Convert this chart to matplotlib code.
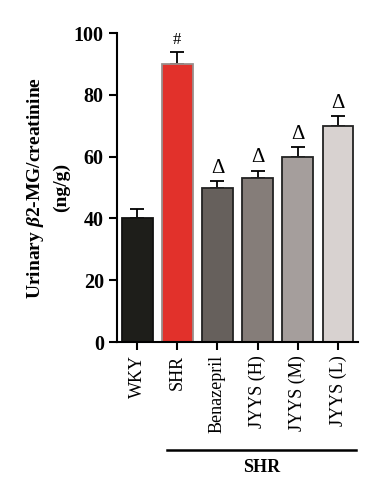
import matplotlib.pyplot as plt
import matplotlib.transforms as mtransforms

groups = ["WKY", "SHR", "Benazepril", "JYYS (H)", "JYYS (M)", "JYYS (L)"]
values = [40, 90, 50, 53, 60, 70]
errors = [3, 4, 2, 2.5, 3, 3]
marks = ["", "#", "Δ", "Δ", "Δ", "Δ"]
colors = ["#1e1e1a", "#e2312b", "#66605c", "#857d79", "#a59e9c", "#d8d2d0"]
edges = ["#111111", "#9a8f8c", "#222222", "#222222", "#222222", "#222222"]
yticks = [0, 20, 40, 60, 80, 100]

plt.rcParams['font.family'] = ['Liberation Serif', 'DejaVu Serif']
plt.rcParams['mathtext.fontset'] = 'custom'
plt.rcParams['mathtext.it'] = 'Liberation Serif:italic:bold'
plt.rcParams['mathtext.rm'] = 'Liberation Serif:bold'

fig = plt.figure(figsize=(3.83, 5.0), dpi=100)
ax = fig.add_axes([0.3055, 0.316, 0.6295, 0.618])

x = list(range(len(groups)))
ax.bar(x, values, width=0.77, color=colors, edgecolor=edges, linewidth=1.3, zorder=2)
ax.errorbar(x, values, yerr=[[0] * len(errors), errors], fmt='none',
            ecolor='black', elinewidth=1.3, capsize=5, capthick=1.3, zorder=1)

for xi, v, e, m in zip(x, values, errors, marks):
    if m:
        ax.text(xi, v + e + 1.0, m, ha='center', va='bottom',
                fontsize=15 if m == "Δ" else 12)

ax.set_xlim(-0.5, 5.5)
ax.set_ylim(0, 100)
ax.set_yticks(yticks)
ax.set_yticklabels([str(t) for t in yticks], fontsize=14.5, fontweight='bold')
ax.set_xticks(x)
ax.set_xticklabels(groups, rotation=90, fontsize=13)

for s in ['top', 'right']:
    ax.spines[s].set_visible(False)
for s in ['left', 'bottom']:
    ax.spines[s].set_linewidth(1.5)
ax.tick_params(axis='both', length=6, width=1.5, direction='out')

ax.set_ylabel("Urinary $\\beta$2-MG/creatinine\n(ng/g)", fontsize=14,
              fontweight='bold', labelpad=3, linespacing=1.45)

trans = mtransforms.blended_transform_factory(ax.transData, ax.transAxes)
ax.plot([0.74, 5.45], [-0.35, -0.35], color='black', lw=1.8,
        transform=trans, clip_on=False)
ax.text(3.1, -0.38, "SHR", transform=trans, ha='center', va='top',
        fontsize=13, fontweight='bold')

fig.savefig("out.png", dpi=100)
